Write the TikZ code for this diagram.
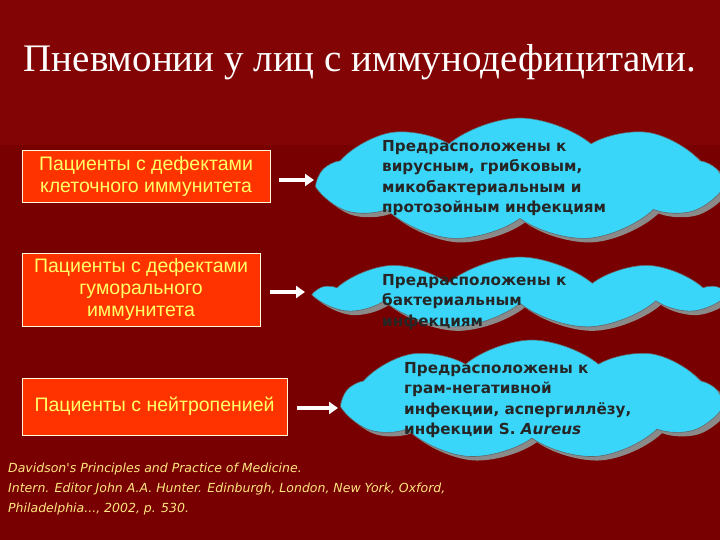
\documentclass[tikz,border=0pt]{standalone}
\usepackage{fontspec}
\setmainfont{Liberation Sans}
\newfontfamily\titlefont{Liberation Serif}
\newfontfamily\citefont{DejaVu Sans}
\newfontfamily\cloudfont[BoldFont={DejaVu Sans Bold}]{DejaVu Sans}
\usetikzlibrary{shapes.symbols,arrows.meta}
\definecolor{bgtop}{HTML}{820404}
\definecolor{bgbot}{HTML}{780000}
\definecolor{boxred}{HTML}{FF3300}
\definecolor{boxtxt}{HTML}{FFFF66}
\definecolor{cyanc}{HTML}{3AD6FA}
\definecolor{shad}{HTML}{8A8A8A}
\definecolor{citec}{HTML}{FFE680}
\begin{document}
\begin{tikzpicture}[x=1pt,y=-1pt,
  pbox/.style={draw=white!85!yellow,line width=0.8pt,fill=boxred,text=boxtxt,font=\fontsize{19.5}{22}\selectfont,align=center,inner sep=0pt},
  cloudbg/.style={cloud,cloud puffs=9,cloud puff arc=80,cloud ignores aspect,draw=black!60,line width=0.6pt,fill=cyanc,inner sep=0pt},
  cloudsh/.style={cloud,cloud puffs=9,cloud puff arc=80,cloud ignores aspect,fill=shad,inner sep=0pt},
  ctext/.style={font=\cloudfont\bfseries\fontsize{15.2}{20.5}\selectfont,text=black!85,align=left,anchor=north west,inner sep=0pt},
  warrow/.style={-{Triangle[length=9pt,width=12pt]},line width=4pt,white}]
\useasboundingbox (0,0) rectangle (720,540);
\fill[bgbot] (0,0) rectangle (720,540);
\fill[bgtop] (0,0) rectangle (720,145);
\node (title) at (360,62) {\titlefont\fontsize{39}{42}\selectfont\color{white}Пневмонии у лиц с иммунодефицитами.};
% boxes
\node[pbox,minimum width=248pt,minimum height=52pt] (b1) at (146,176) {Пациенты с дефектами\\клеточного иммунитета};
\node[pbox,minimum width=238pt,minimum height=73pt] (b2) at (141,289.5) {Пациенты с дефектами\\гуморального\\иммунитета};
\node[pbox,minimum width=265pt,minimum height=57pt] (b3) at (154.5,406.5) {Пациенты с нейтропенией};
% clouds
\node[cloudsh,minimum width=400pt,minimum height=124pt] (c1s) at (525,184) {};
\node[cloudbg,minimum width=400pt,minimum height=124pt] (c1) at (520,180) {};
\node[cloudsh,minimum width=400pt,minimum height=72pt] (c2s) at (525,297) {};
\node[cloudbg,minimum width=400pt,minimum height=72pt] (c2) at (520,293) {};
\node[cloudsh,minimum width=375pt,minimum height=120pt] (c3s) at (537,404) {};
\node[cloudbg,minimum width=375pt,minimum height=120pt] (c3) at (532,400) {};
\node[ctext] (t1) at (382,140) {Предрасположены к\\вирусным, грибковым,\\микобактериальным и\\протозойным инфекциям};
\node[ctext] (t2) at (382,274) {Предрасположены к\\бактериальным\\инфекциям};
\node[ctext] (t3) at (404,362) {Предрасположены к\\грам-негативной\\инфекции, аспергиллёзу,\\инфекции S.~\textit{Aureus}};
% arrows
\coordinate (a1s) at (279,180); \coordinate (a1e) at (314,180);
\coordinate (a2s) at (270,292); \coordinate (a2e) at (305,292);
\coordinate (a3s) at (297,408); \coordinate (a3e) at (338,408);
\draw[warrow] (a1s) -- (a1e);
\draw[warrow] (a2s) -- (a2e);
\draw[warrow] (a3s) -- (a3e);
% citation
\node[anchor=north west,align=left,text=citec,font=\citefont\itshape\fontsize{12.5}{20}\selectfont,inner sep=0pt] (cite) at (8,463) {Davidson's Principles and Practice of Medicine.\\Intern. Editor John A.A. Hunter. Edinburgh, London, New York, Oxford,\\Philadelphia..., 2002, p. 530.};
\end{tikzpicture}
\end{document}
